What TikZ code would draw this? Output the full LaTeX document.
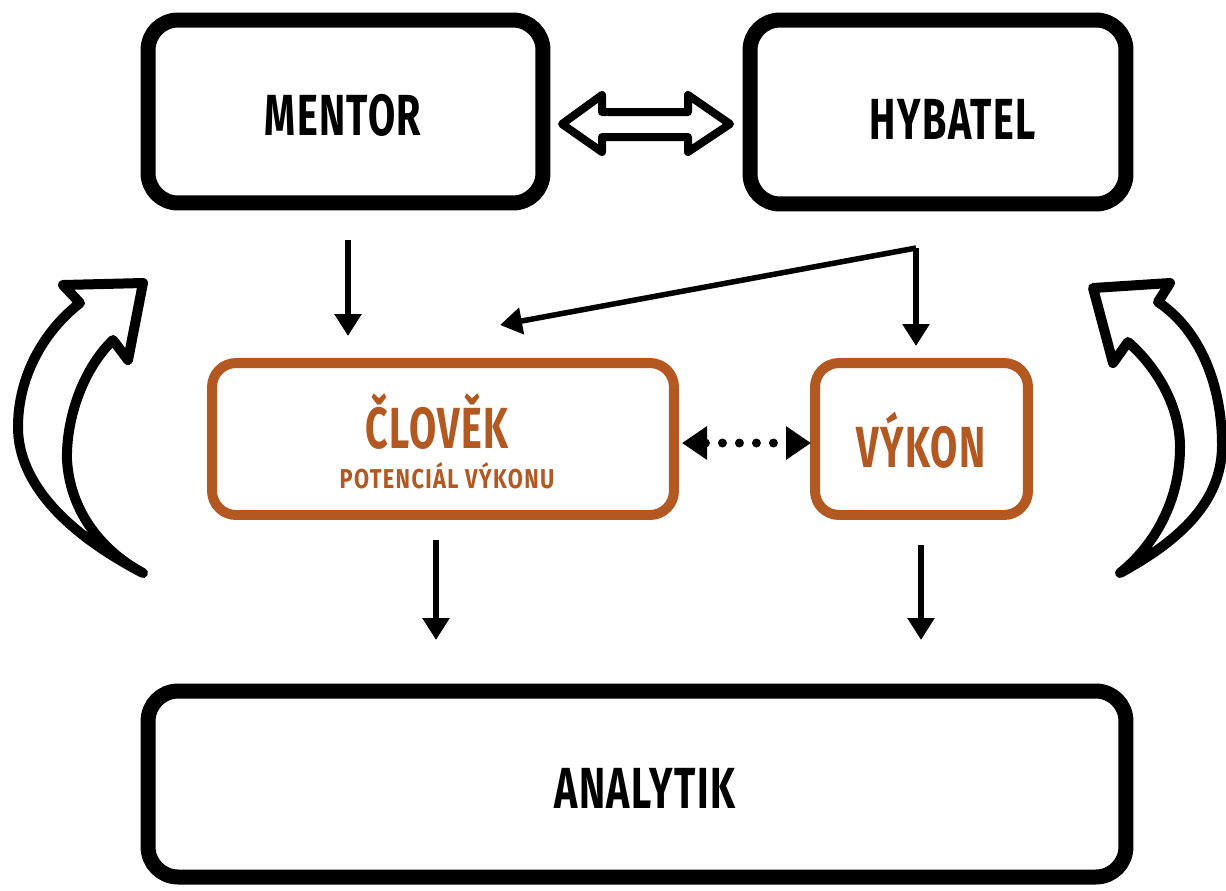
\documentclass[tikz,border=0pt]{standalone}
\usepackage{fontspec}
\setmainfont{Fira Sans}
\newfontfamily\condf{Fira Sans}[FakeStretch=0.68,LetterSpace=2.5]
\newfontfamily\subf{Fira Sans}[FakeStretch=0.80,LetterSpace=5]
\usetikzlibrary{arrows.meta,calc}
\definecolor{rust}{RGB}{180,88,34}
\newcommand\pxl[1]{#1*0.56906pt}
\begin{document}
\begin{tikzpicture}[x=0.02cm,y=-0.02cm,
  bigbox/.style={draw=black, line width=\pxl{15}, rounded corners=\pxl{30}, inner sep=0pt},
  midbox/.style={draw=rust, line width=\pxl{10}, rounded corners=\pxl{24}, inner sep=0pt},
  lbl/.style={font=\condf\bfseries\fontsize{33}{36}\selectfont, anchor=base, inner sep=0pt},
  sublbl/.style={font=\subf\bfseries\fontsize{15.5}{18}\selectfont, anchor=base, inner sep=0pt, text=rust},
  arr/.style={line width=\pxl{5.5}, -{Triangle[length=\pxl{22},width=\pxl{26}]}},
  dotarr/.style={line width=\pxl{9}, line cap=round, dash pattern=on 0pt off \pxl{17},
     {Triangle[length=\pxl{25},width=\pxl{32}]}-{Triangle[length=\pxl{25},width=\pxl{32}]}},
  hollow/.style={draw=black, line width=\pxl{8}, line join=round, fill=white},
  curved/.style={draw=black, line width=\pxl{10}, line join=round, fill=white}
]
\useasboundingbox (0,0) rectangle (1226,890);
\fill[white] (0,0) rectangle (1226,890);

% boxes
\node[bigbox, minimum width=\pxl{395}, minimum height=\pxl{183}] (mentor) at (345.5,111.5) {};
\node[bigbox, minimum width=\pxl{376}, minimum height=\pxl{184}] (hybatel) at (938,112) {};
\node[midbox, minimum width=\pxl{462}, minimum height=\pxl{152}] (clovek) at (443,439) {};
\node[midbox, minimum width=\pxl{213}, minimum height=\pxl{152}] (vykon) at (921.5,439) {};
\node[bigbox, minimum width=\pxl{978}, minimum height=\pxl{186}] (analytik) at (637,784) {};

% labels
\node[lbl] (tMentor) at (343,135) {MENTOR};
\node[lbl] (tHybatel) at (953,139) {HYBATEL};
\node[lbl, text=rust] (tClovek) at (437,448) {ČLOVĚK};
\node[sublbl] (tPot) at (447,488) {POTENCIÁL VÝKONU};
\node[lbl, text=rust] (tVykon) at (921,467) {VÝKON};
\node[lbl] (tAnalytik) at (645,808) {ANALYTIK};

% hollow double arrow between MENTOR and HYBATEL
\draw[hollow] (562,124) -- (602,95) -- (602,112) -- (688,112) -- (688,95) -- (730,124)
  -- (688,152) -- (688,137) -- (602,137) -- (602,152) -- cycle;

% straight arrows
\coordinate (mS) at (348,240);
\coordinate (mE) at (348,336);
\draw[arr] (mS) -- (mE);

\coordinate (hC) at (916,248);
\coordinate (hL) at (500,325);
\coordinate (hD) at (916,346);
\draw[arr] (hC) -- (hL);
\draw[arr] (hC) -- (hD);

\coordinate (cS) at (436,540);
\coordinate (cE) at (436,640);
\draw[arr] (cS) -- (cE);
\coordinate (vS) at (921,545);
\coordinate (vE) at (921,640);
\draw[arr] (vS) -- (vE);

% dotted double arrow
\coordinate (dL) at (682,443);
\coordinate (dR) at (811,443);
\draw[dotarr] (dL) -- (dR);

% left curved arrow
\draw[curved] (143,573) .. controls (70,535) and (18,485) .. (18,427)
  .. controls (18,375) and (45,330) .. (80,303)
  -- (63,285) -- (143,283) -- (128,360) -- (113,340)
  .. controls (82,370) and (66,420) .. (67,460)
  .. controls (70,510) and (100,550) .. (143,573) -- cycle;

% right curved arrow
\draw[curved] (1120,573) .. controls (1190,535) and (1222,495) .. (1222,445)
  .. controls (1222,385) and (1200,330) .. (1158,302)
  -- (1170,283) -- (1093,288) -- (1113,363) -- (1128,342)
  .. controls (1160,370) and (1180,410) .. (1180,447)
  .. controls (1180,500) and (1155,545) .. (1120,573) -- cycle;
\end{tikzpicture}
\end{document}
